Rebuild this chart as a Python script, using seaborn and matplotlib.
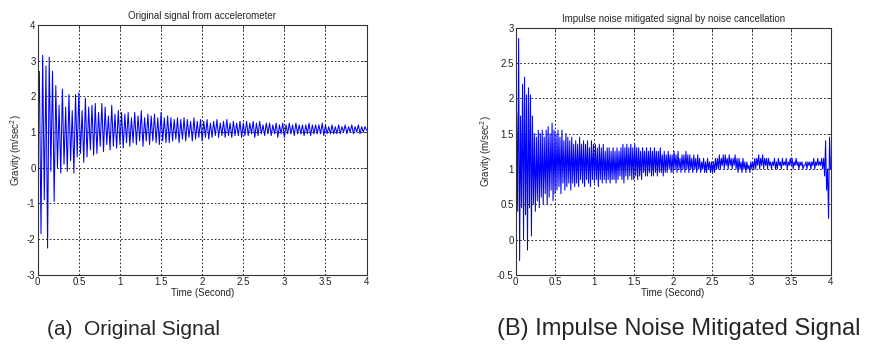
import numpy as np
import pandas as pd
import seaborn as sns
import matplotlib
matplotlib.use("Agg")
import matplotlib.pyplot as plt
from matplotlib.ticker import FuncFormatter

# accelerometer samples (gravity, m/sec^2)
orig_signal = [
    1.0, 2.7, -1.85, 3.15, -0.9, 2.85, -2.25, 3.1, -0.1, 2.7,
    -0.95, 2.3, 0.0, 1.75, -0.15, 2.2, 0.1, 1.7, -0.1, 2.05,
    0.2, 1.6, -0.15, 2.05, 0.3, 2.1, 0.4, 1.6, 0.15, 1.95,
    0.3, 1.7, 0.5, 1.75, 0.35, 1.8, 0.4, 1.55, 0.6, 1.8,
    0.45, 1.7, 0.65, 1.45, 0.5, 1.75, 0.6, 1.5, 0.55, 1.6,
    0.65, 1.55, 0.55, 1.5, 0.7, 1.55, 0.6, 1.4, 0.7, 1.55,
    0.65, 1.45, 0.75, 1.6, 0.6, 1.4, 0.75, 1.5, 0.65, 1.45,
    0.75, 1.5, 0.7, 1.4, 0.65, 1.55, 0.75, 1.4, 0.7, 1.45,
    0.7, 1.4, 0.75, 1.35, 0.8, 1.4, 0.7, 1.35, 0.8, 1.4,
    0.75, 1.35, 0.85, 1.3, 0.75, 1.4, 0.8, 1.3, 0.85, 1.35,
    0.75, 1.3, 0.85, 1.35, 0.8, 1.25, 0.85, 1.3, 0.9, 1.35,
    0.85, 1.25, 0.9, 1.3, 0.85, 1.35, 0.9, 1.25, 0.85, 1.3,
    0.9, 1.25, 0.9, 1.3, 0.85, 1.25, 0.9, 1.3, 0.9, 1.25,
    0.95, 1.3, 0.85, 1.25, 0.9, 1.3, 0.95, 1.2, 0.9, 1.25,
    0.95, 1.25, 0.9, 1.2, 0.95, 1.25, 0.85, 1.2, 0.95, 1.25,
    0.85, 1.2, 0.95, 1.25, 0.95, 1.2, 0.9, 1.25, 0.95, 1.2,
    0.95, 1.2, 0.9, 1.2, 0.95, 1.25, 0.9, 1.2, 0.95, 1.2,
    0.95, 1.2, 0.95, 1.25, 0.9, 1.2, 0.95, 1.15, 0.95, 1.2,
    0.95, 1.15, 0.95, 1.2, 0.95, 1.15, 1.0, 1.2, 0.95, 1.15,
    1.0, 1.2, 0.95, 1.15, 1.0, 1.2, 0.95, 1.15, 1.0, 1.15,
    1.05,
]

mitigated_signal = [
    1.1, 1.8, 0.4, 2.85, -0.3, 1.75, 0.45, 2.2, 0.0, 2.3, 0.35, 2.05, -0.15, 2.15, 0.45, 2.05, 0.05, 1.75, 0.5, 1.5,
    0.4, 1.45, 0.55, 1.55, 0.45, 1.5, 0.6, 1.55, 0.5, 1.45, 0.65, 1.55, 0.5, 1.6, 0.6, 1.5, 0.7, 1.65, 0.55, 1.55,
    0.65, 1.5, 0.7, 1.55, 0.75, 1.45, 0.65, 1.55, 0.8, 1.4, 0.7, 1.5, 0.75, 1.45, 0.8, 1.4, 0.7, 1.45, 0.8, 1.35,
    0.75, 1.4, 0.8, 1.35, 0.75, 1.45, 0.85, 1.35, 0.8, 1.4, 0.75, 1.35, 0.85, 1.4, 0.8, 1.3, 0.75, 1.4, 0.85, 1.35,
    0.8, 1.35, 0.85, 1.3, 0.75, 1.35, 0.85, 1.3, 0.8, 1.35, 0.85, 1.25, 0.8, 1.3, 0.85, 1.3, 0.8, 1.25, 0.85, 1.3,
    0.85, 1.25, 0.8, 1.3, 0.85, 1.25, 0.9, 1.3, 0.85, 1.35, 0.8, 1.3, 0.9, 1.35, 0.85, 1.3, 0.9, 1.35, 0.85, 1.3,
    0.85, 1.35, 0.9, 1.3, 0.85, 1.3, 0.9, 1.25, 0.85, 1.3, 0.95, 1.25, 0.9, 1.3, 0.9, 1.25, 0.95, 1.3, 0.9, 1.25,
    0.9, 1.3, 0.95, 1.25, 0.9, 1.25, 0.95, 1.3, 0.95, 1.2, 0.9, 1.25, 0.95, 1.2, 0.95, 1.25, 1.0, 1.2, 0.95, 1.2,
    0.95, 1.25, 1.0, 1.2, 0.95, 1.25, 1.0, 1.15, 0.95, 1.2, 1.0, 1.2, 0.95, 1.25, 1.0, 1.2, 0.95, 1.2, 1.0, 1.15,
    0.95, 1.2, 1.0, 1.15, 0.95, 1.2, 1.0, 1.15, 0.95, 1.1, 1.0, 1.15, 0.95, 1.1, 0.95, 1.15, 1.0, 1.1, 0.95, 1.1,
    0.95, 1.1, 0.95, 1.15, 1.0, 1.15, 1.0, 1.2, 1.0, 1.15, 1.05, 1.2, 1.0, 1.2, 1.05, 1.15, 1.0, 1.2, 1.05, 1.15,
    1.0, 1.15, 1.05, 1.2, 1.0, 1.15, 0.95, 1.15, 1.0, 1.1, 0.95, 1.15, 1.0, 1.1, 0.95, 1.1, 1.0, 1.05, 0.95, 1.1,
    1.0, 1.1, 1.0, 1.15, 1.0, 1.15, 1.05, 1.2, 1.0, 1.15, 1.05, 1.2, 1.0, 1.15, 1.05, 1.15, 1.0, 1.15, 1.05, 1.1,
    1.0, 1.1, 1.05, 1.15, 1.0, 1.1, 1.0, 1.15, 1.05, 1.1, 1.0, 1.15, 1.05, 1.1, 1.05, 1.15, 1.0, 1.1, 1.05, 1.15,
    1.05, 1.15, 1.0, 1.1, 1.05, 1.15, 1.05, 1.1, 1.0, 1.1, 1.05, 1.1, 1.0, 1.05, 1.05, 1.1, 1.0, 1.1, 1.05, 1.1,
    1.0, 1.1, 1.05, 1.15, 1.0, 1.1, 1.05, 1.15, 1.05, 1.1, 1.05, 1.15, 1.0, 1.15, 0.9, 1.4, 0.7, 1.0, 0.3, 1.45,
    1.0,
]

titles = ["Original signal from accelerometer",
          "Impulse noise mitigated signal by noise cancellation"]
captions = ["(a)  Original Signal", "(B) Impulse Noise Mitigated Signal"]
xticks = [0, 0.5, 1, 1.5, 2, 2.5, 3, 3.5, 4]
yticks_a = [-3, -2, -1, 0, 1, 2, 3, 4]
yticks_b = [-0.5, 0, 0.5, 1, 1.5, 2, 2.5, 3]

sns.set_style("white")
plt.rcParams["font.family"] = ["Liberation Sans", "DejaVu Sans"]
plt.rcParams["axes.unicode_minus"] = False
plt.rcParams["mathtext.default"] = "regular"

df_a = pd.DataFrame({"t": np.linspace(0, 4, len(orig_signal)), "g": orig_signal})
df_b = pd.DataFrame({"t": np.linspace(0, 4, len(mitigated_signal)), "g": mitigated_signal})

fig = plt.figure(figsize=(8.77, 3.56), dpi=100)
ax1 = fig.add_axes([0.043, 0.228, 0.375, 0.702])
ax2 = fig.add_axes([0.588, 0.228, 0.359, 0.694])

lab = 7
for ax, df, title, yt in [(ax1, df_a, titles[0], yticks_a), (ax2, df_b, titles[1], yticks_b)]:
    sns.lineplot(data=df, x="t", y="g", ax=ax, color="blue", linewidth=0.75, estimator=None)
    ax.set_xlim(0, 4)
    ax.set_ylim(yt[0], yt[-1])
    ax.set_xticks(xticks)
    ax.set_yticks(yt)
    fmt = FuncFormatter(lambda v, p: "%g" % v)
    ax.xaxis.set_major_formatter(fmt)
    ax.yaxis.set_major_formatter(fmt)
    ax.grid(True, color="black", linestyle=(0, (2, 2.5)), linewidth=0.6)
    ax.tick_params(labelsize=lab, direction="in", length=3, width=0.6,
                   top=True, right=True, pad=1.5, colors="#333333", labelcolor="#222222")
    for s in ax.spines.values():
        s.set_color("#333333")
        s.set_linewidth(0.8)
    ax.set_title(title, fontsize=lab, pad=4)
    ax.set_xlabel("Time (Second)", fontsize=lab, labelpad=0.5)
    ax.set_ylabel("Gravity (m/sec$^2$)", fontsize=lab, labelpad=2)

fig.text(0.054, 0.075, captions[0], fontsize=15, va="center", ha="left")
fig.text(0.567, 0.075, captions[1], fontsize=17, va="center", ha="left")

fig.savefig("out.png", dpi=100)
